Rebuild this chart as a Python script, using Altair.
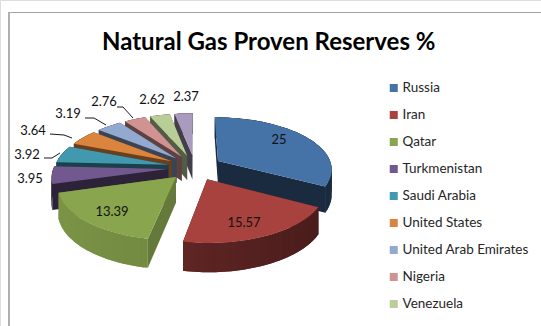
import math
import altair as alt

# Share of world proven natural gas reserves, clockwise from twelve o'clock
countries = ["Russia", "Iran", "Qatar", "Turkmenistan", "Saudi Arabia", "United States",
             "United Arab Emirates", "Nigeria", "Venezuela", "Algeria"]
shares = [25, 15.57, 13.39, 3.95, 3.92, 3.64, 3.19, 2.76, 2.62, 2.37]
legend_names = countries[:9]
top_colors = ["#4572a7", "#a8423f", "#89a54e", "#71588f", "#4198af",
              "#db843d", "#93a9cf", "#d19392", "#b9cd96", "#a99bbd"]
side_dark = [0.38, 0.42, 0.74, 0.40, 0.42, 0.48, 0.40, 0.45, 0.45, 0.40]
side_light = [0.40, 0.66, 0.90, 0.40, 0.42, 0.48, 0.40, 0.45, 0.45, 0.40]

# Projection of the tilted pie
CX, CY = 195, 167.5
A, B = 114, 53
EXPLODE = 0.24
PERSPECTIVE = 0.14
DEPTH = 25


def project(px, py, lift=0.0):
    f = 1 + PERSPECTIVE * py
    return [CX + A * px * f, CY + B * py * f + lift * f]


def mix(hex_color, factor):
    rgb = [int(hex_color[i:i + 2], 16) for i in (1, 3, 5)]
    return "#" + "".join(f"{round(c * factor):02x}" for c in rgb)


def feature(ring, **props):
    return {"type": "Feature", "properties": props,
            "geometry": {"type": "Polygon", "coordinates": [ring + [ring[0]]]}}


def leader(points):
    return {"type": "Feature", "properties": {},
            "geometry": {"type": "LineString", "coordinates": points}}


total = sum(shares)
spans = []
angle = 0.0
for share in shares:
    sweep = share / total * 2 * math.pi
    spans.append((angle, angle + sweep))
    angle += sweep


def offset_of(i):
    mid = sum(spans[i]) / 2
    return EXPLODE * math.sin(mid), -EXPLODE * math.cos(mid)


def rim(i, t):
    ox, oy = offset_of(i)
    return ox + math.sin(t), oy - math.cos(t)


# Paint slices from the far side of the pie to the near side
paint_order = sorted(range(len(shares)), key=lambda i: offset_of(i)[1])
side_faces, top_faces = [], []
for i in paint_order:
    start, end = spans[i]
    ox, oy = offset_of(i)
    steps = max(6, int((end - start) / 0.03))
    arc = [rim(i, start + (end - start) * k / steps) for k in range(steps + 1)]
    apex = (ox, oy)
    dark = mix(top_colors[i], side_dark[i])
    for edge in ([apex, arc[0]], [arc[-1], apex]):
        quad = [project(*edge[0]), project(*edge[1]),
                project(*edge[1], DEPTH), project(*edge[0], DEPTH)]
        side_faces.append(feature(quad, fill=dark))
    # Outer wall: each strip runs under the next one so no seams show
    for k in range(steps):
        run = arc[k:k + 3]
        mid_sin = (arc[k][0] + arc[k + 1][0]) / 2 - ox
        t = (1 - mid_sin) / 2
        factor = side_dark[i] + (side_light[i] - side_dark[i]) * t
        quad = [project(*p) for p in run] + [project(*p, DEPTH) for p in reversed(run)]
        side_faces.append(feature(quad, fill=mix(top_colors[i], factor)))
    top_faces.append(feature([project(*p) for p in [apex] + arc], name=countries[i]))

# Value labels: (x, y) of each label centre on the canvas
label_spots = {
    "25": (279, 140), "15.57": (244, 223), "13.39": (112, 212), "3.95": (30, 179),
    "3.92": (27, 155), "3.64": (33, 131), "3.19": (68, 114), "2.76": (104, 102),
    "2.62": (152, 100), "2.37": (186, 97),
}
label_rows = [{"text": f"{s:g}", "px": label_spots[f"{s:g}"][0], "py": label_spots[f"{s:g}"][1]}
              for s in shares]

leaders = [
    leader([[44, 158], [52, 158], [60, 153]]),
    leader([[50, 134], [64, 135], [72, 138]]),
    leader([[85, 118], [94, 118], [106, 125]]),
    leader([[117, 107], [123, 107], [133, 118]]),
]

identity = dict(type="identity", scale=1, translate=[0, 0])
xpix = alt.X("px:Q", scale=alt.Scale(domain=[0, 541], nice=False, zero=False), axis=None)
ypix = alt.Y("py:Q", scale=alt.Scale(domain=[326, 0], nice=False, zero=False), axis=None)

sides = (
    alt.Chart(alt.Data(values=side_faces))
    .mark_geoshape(strokeWidth=0)
    .encode(fill=alt.Fill("properties.fill:N", scale=None, legend=None))
    .project(**identity)
)

tops = (
    alt.Chart(alt.Data(values=top_faces))
    .mark_geoshape(strokeWidth=0)
    .encode(color=alt.Color(
        "properties.name:N",
        scale=alt.Scale(domain=countries, range=top_colors),
        legend=alt.Legend(
            title=None, values=legend_names, orient="none", legendX=387, legendY=81,
            symbolType="square", symbolSize=64, symbolStrokeWidth=0, symbolOpacity=1,
            labelFont="Lato", labelFontSize=13.5, labelColor="#262626", labelOffset=2,
            rowPadding=13, clipHeight=14, labelLimit=200,
        ),
    ))
    .project(**identity)
)

leader_lines = (
    alt.Chart(alt.Data(values=leaders))
    .mark_geoshape(filled=False, stroke="#1a1a1a", strokeWidth=1)
    .project(**identity)
)

labels = (
    alt.Chart(alt.Data(values=label_rows))
    .mark_text(font="Lato", fontSize=13, color="#111111", align="center", baseline="middle")
    .encode(x=xpix, y=ypix, text="text:N")
)

frame_top = alt.Chart(alt.Data(values=[{}])).mark_rule(color="#a6a6a6", strokeWidth=1).encode(
    x=alt.value(8), x2=alt.value(541), y=alt.value(12.5))
frame_left = alt.Chart(alt.Data(values=[{}])).mark_rule(color="#b0b0b0", strokeWidth=2).encode(
    x=alt.value(9), y=alt.value(12), y2=alt.value(326))

chart = (
    alt.layer(frame_top, frame_left, sides, tops, leader_lines, labels)
    .properties(
        width=541, height=326, padding=0, autosize=alt.AutoSizeParams(type="none"),
        title=alt.TitleParams(
            "Natural Gas Proven Reserves %", font="Lato", fontWeight="bold", fontSize=24,
            color="#000000", anchor="start", frame="group", dx=102, dy=59,
        ),
    )
    .configure_view(stroke=None)
    .configure(background="#ffffff")
)

chart.save("out.html", embed_options={"renderer": "svg", "actions": False})
